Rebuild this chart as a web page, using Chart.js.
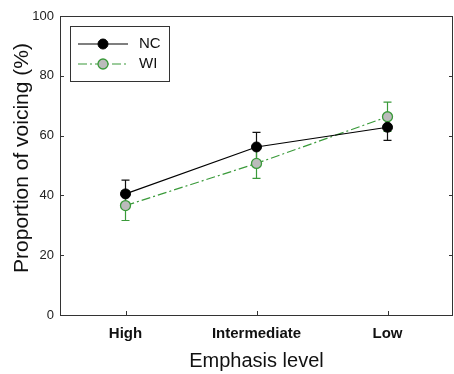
<!DOCTYPE html>
<html lang="en">
  <head>
    <meta charset="UTF-8" />
    <title>Proportion of voicing by emphasis level</title>
    <script src="https://cdn.jsdelivr.net/npm/chart.js@4"></script>
    <style>
      html,
      body {
        margin: 0;
        padding: 0;
        background: #fff;
      }
    </style>
  </head>
  <body>
    <canvas id="voicingChart" width="454" height="374"></canvas>

    <script>
      // values
      const categories = ["High", "Intermediate", "Low"];
      const ncValues = [40.5, 56.2, 62.8];
      const ncErrors = [4.6, 4.9, 4.4];
      const wiValues = [36.6, 50.7, 66.3];
      const wiErrors = [5.0, 5.0, 4.9];
      const yTicks = [0, 20, 40, 60, 80, 100];

      const green = "#3a9a3a";

      // error bars go under the markers
      const errorBars = {
        id: "errorBars",
        beforeDatasetsDraw(chart) {
          const ctx = chart.ctx;
          const y = chart.scales.y;
          chart.data.datasets.forEach((ds, di) => {
            const meta = chart.getDatasetMeta(di);
            ctx.save();
            ctx.strokeStyle = ds.errorColor;
            ctx.lineWidth = 1.2;
            meta.data.forEach((pt, i) => {
              const top = y.getPixelForValue(ds.data[i] + ds.errors[i]);
              const bot = y.getPixelForValue(ds.data[i] - ds.errors[i]);
              ctx.beginPath();
              ctx.moveTo(pt.x, top);
              ctx.lineTo(pt.x, bot);
              ctx.moveTo(pt.x - 4, top);
              ctx.lineTo(pt.x + 4, top);
              ctx.moveTo(pt.x - 4, bot);
              ctx.lineTo(pt.x + 4, bot);
              ctx.stroke();
            });
            ctx.restore();
          });
        },
      };

      // box around the plot, inward ticks, y title and legend
      const frame = {
        id: "frame",
        afterDraw(chart) {
          const ctx = chart.ctx;
          const a = chart.chartArea;
          const x = chart.scales.x;
          const y = chart.scales.y;
          ctx.save();
          ctx.strokeStyle = "#333";
          ctx.lineWidth = 1;
          ctx.strokeRect(a.left + 0.5, a.top + 0.5, a.right - a.left - 1, a.bottom - a.top);

          ctx.beginPath();
          yTicks.forEach((t) => {
            const py = Math.round(y.getPixelForValue(t)) + 0.5;
            ctx.moveTo(a.left, py);
            ctx.lineTo(a.left + 4, py);
            ctx.moveTo(a.right - 4, py);
            ctx.lineTo(a.right, py);
          });
          categories.forEach((c, i) => {
            const px = Math.round(x.getPixelForValue(i)) + 0.5;
            ctx.moveTo(px, a.bottom);
            ctx.lineTo(px, a.bottom - 4);
          });
          ctx.stroke();

          // y axis title
          ctx.fillStyle = "#111";
          ctx.font = "21px Arial, 'Liberation Sans', sans-serif";
          ctx.textAlign = "center";
          ctx.textBaseline = "middle";
          ctx.translate(22, 158);
          ctx.rotate(-Math.PI / 2);
          ctx.fillText("Proportion of voicing (%)", 0, 0);
          ctx.restore();

          // legend
          ctx.save();
          ctx.strokeStyle = "#333";
          ctx.lineWidth = 1;
          ctx.strokeRect(70.5, 26.5, 99, 55);
          ctx.font = "15px Arial, 'Liberation Sans', sans-serif";
          ctx.textBaseline = "middle";
          ctx.textAlign = "left";
          chart.data.datasets.forEach((ds, i) => {
            const ly = 44 + i * 20;
            ctx.strokeStyle = ds.borderColor;
            ctx.lineWidth = ds.borderWidth;
            ctx.setLineDash(ds.borderDash || []);
            ctx.beginPath();
            ctx.moveTo(78, ly);
            ctx.lineTo(128, ly);
            ctx.stroke();
            ctx.setLineDash([]);
            ctx.beginPath();
            ctx.arc(103, ly, ds.pointRadius, 0, Math.PI * 2);
            ctx.fillStyle = ds.pointBackgroundColor;
            ctx.fill();
            ctx.strokeStyle = ds.pointBorderColor;
            ctx.lineWidth = ds.pointBorderWidth;
            ctx.stroke();
            ctx.fillStyle = "#111";
            ctx.fillText(ds.label, 139, ly);
          });
          ctx.restore();
        },
      };

      new Chart(document.getElementById("voicingChart"), {
        type: "line",
        data: {
          labels: categories,
          datasets: [
            {
              label: "NC",
              data: ncValues,
              errors: ncErrors,
              errorColor: "#111",
              borderColor: "#000",
              borderWidth: 1.2,
              pointRadius: 5,
              pointBackgroundColor: "#000",
              pointBorderColor: "#000",
              pointBorderWidth: 1,
            },
            {
              label: "WI",
              data: wiValues,
              errors: wiErrors,
              errorColor: green,
              borderColor: green,
              borderWidth: 1.2,
              borderDash: [9, 3, 2, 3],
              pointRadius: 5,
              pointBackgroundColor: "#bbbbbb",
              pointBorderColor: green,
              pointBorderWidth: 1.3,
            },
          ],
        },
        options: {
          responsive: false,
          animation: false,
          devicePixelRatio: 1,
          layout: { autoPadding: false, padding: { top: 16, right: 1, left: 0, bottom: 0 } },
          plugins: {
            legend: { display: false },
            tooltip: { enabled: false },
          },
          scales: {
            x: {
              offset: true,
              grid: { display: false, drawTicks: false },
              border: { display: false },
              ticks: {
                padding: 10,
                color: "#111",
                font: { family: "Arial, 'Liberation Sans', sans-serif", size: 15, weight: "bold" },
              },
              title: {
                display: true,
                text: "Emphasis level",
                color: "#111",
                padding: { top: 0, bottom: 1 },
                font: { family: "Arial, 'Liberation Sans', sans-serif", size: 20 },
              },
              afterFit(scale) {
                scale.height = 59;
                scale.paddingLeft = 0;
                scale.paddingRight = 0;
              },
            },
            y: {
              min: 0,
              max: 100,
              grid: { display: false, drawTicks: false },
              border: { display: false },
              ticks: {
                stepSize: 20,
                padding: 6,
                color: "#222",
                font: { family: "Arial, 'Liberation Sans', sans-serif", size: 13 },
              },
              afterFit(scale) {
                scale.width = 60;
                scale.paddingTop = 0;
                scale.paddingBottom = 0;
              },
            },
          },
        },
        plugins: [errorBars, frame],
      });
    </script>
  </body>
</html>
